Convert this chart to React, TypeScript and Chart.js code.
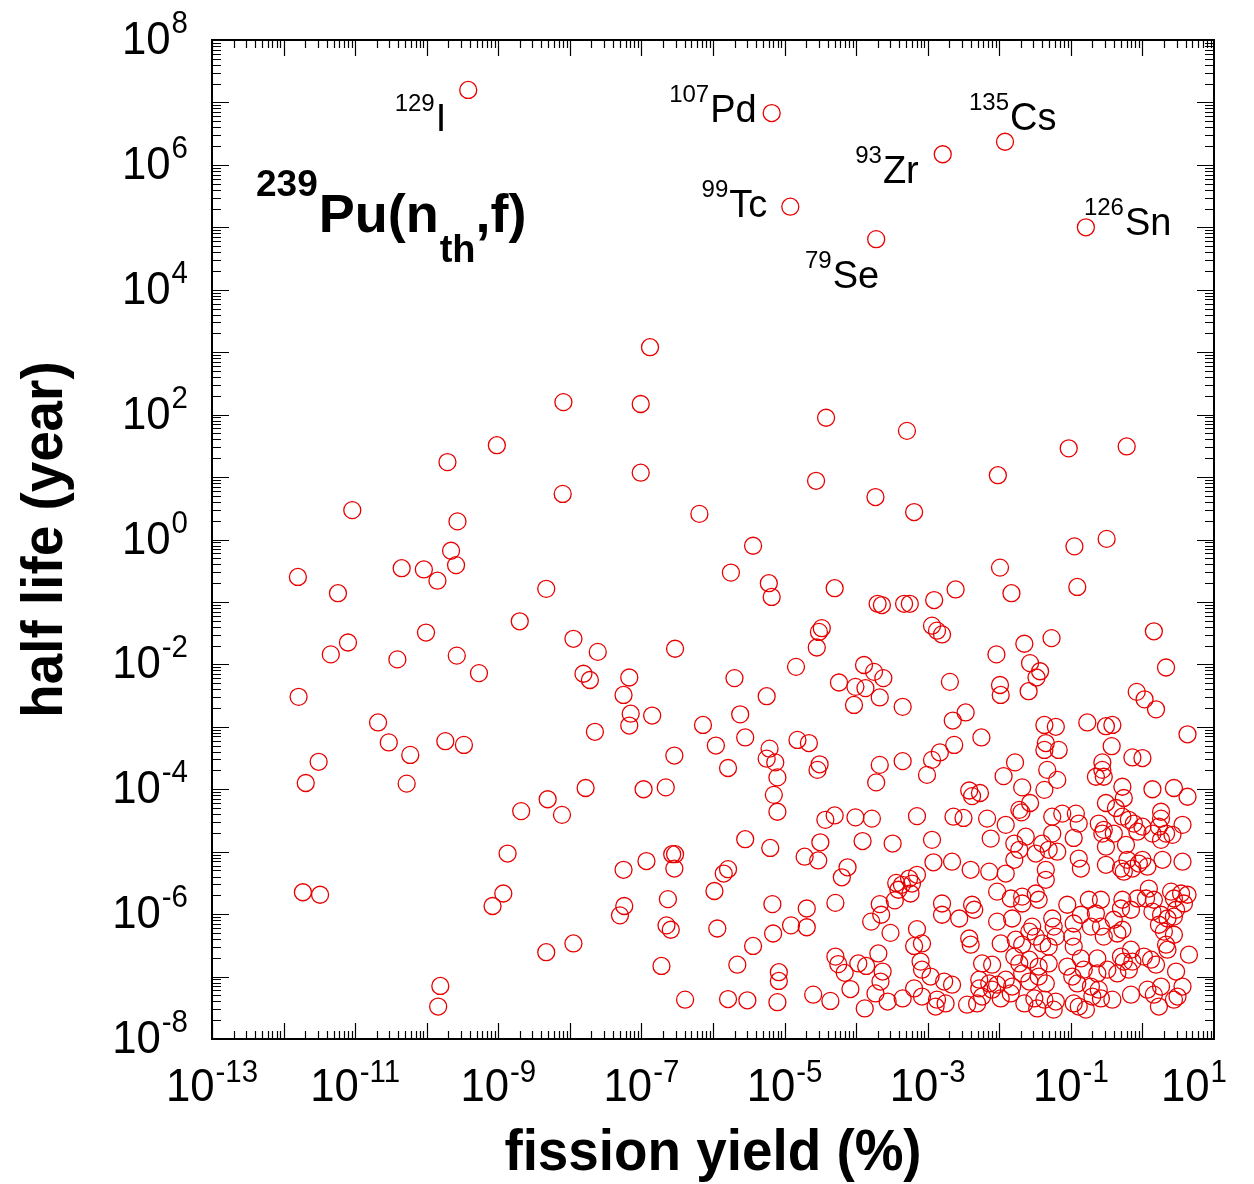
import React, { useEffect, useRef } from "react";
import { Chart, registerables } from "chart.js";

Chart.register(...registerables);

// ---------- DATA (log10 values) ----------
// labelled long-lived fission products
const labeledMass = ["129", "107", "135", "93", "99", "79", "126"];
const labeledSymbol = ["I", "Pd", "Cs", "Zr", "Tc", "Se", "Sn"];
const labeledYieldLog = [-9.42, -5.18, -1.92, -2.79, -4.92, -3.72, -0.79];
const labeledHalfLifeLog = [7.2, 6.83, 6.37, 6.17, 5.33, 4.81, 5.0];

// all other nuclides: log10(fission yield %) and log10(half life / year)
const yieldLog = [
  -9.02, -9.71, -11.04, -9.57, -9.66, -9.59, -10.35, -10.04, -9.85, -11.8, -11.24, -8.33, -8.7, -10.01, -11.1, -11.34, -10.41, -9.58, -9.27, -11.79,
  -10.68, -10.53, -9.74, -9.48, -10.23, -11.51, -11.69, -10.28, -8.31, -8.68, -8.87, -11.73, -11.49, -8.93, -9.08, -8.33, -9.81, -9.84,
  -6.88, -8.09, -7.01, -4.42, -7.01, -8.1, -4.56, -3.73, -6.19, -5.44, -5.75, -5.22, -5.18, -4.3, -3.7, -4.48, -4.52, -4.55, -7.95, -7.61, -6.53, -7.81, -7.72, -7.17, -5.7, -4.84, -4.24, -3.89, -3.75, -4.01, -3.87, -7.25, -5.25,
  -7.15, -7.17, -6.85, -7.65, -6.14, -5.62, -5.55, -5.96, -6.54, -5.79, -5.21, -5.25, -5.13, -5.1, -5.15, -5.1, -4.82, -4.66, -4.51, -4.54, -7.78, -6.97, -6.66, -8.11, -4.43, -4.3, -4.01, -5.55, -5.2, -4.5, -4.72, -4.53, -6.57, -6.53, -6.54, -6.93, -7.25, -5.79, -5.85, -5.98, -4.12, -4.2, -4.29, -4.69, -4.69, -4.91, -5.17, -5.16, -5.44, -5.94, -6.63, -6.65, -6.59, -7.24, -7.3, -7.95, -6.72, -5.66, -5.08, -5.08, -5.1, -6.39, -5.79, -5.52, -4.6, -4.36, -4.29, -4.25, -4.16, -3.97, -4.08, -4.03,
  -3.29, -1.03, -0.22, -2.02, -3.19, -0.95, -0.5, -1.99, -1.83, -0.91, -2.61, -2.91, -3.64, -3.33, -3.25, -2.94, -2.87, -2.8, 0.16, -1.65, -1.27, -2.04, -1.57, -1.43, -1.48, 0.33, -2.69, -1.99, -1.98, -1.59, -0.08, 0.03, -3.62,
  -3.67, -3.35, -2.65, -2.47, -2.25, -1.37, -1.35, -1.37, -2.63, -2.83, -2.94, -3.01, -3.35, -3.67, -3.72, -1.78, -1.94, -1.68, -2.42, -2.27, -2.38, -1.57, -1.72, -1.69, -3.78, -3.15, -2.64, -2.5, -2.17, -1.91,
  -3.91, -3.49, -2.94, -3.15, -3.26, -3.22, -3.44, -3.36, -3.41, -3.24, -3.46, -3.67, -3.65, -3.79, -3.52, -3.15, -3.08, -3.19, -3.69, -3.86, -3.63, -3.66, -3.1, -3.08, -2.96, -3.19, -3.08, -3.73, -3.56, -3.35, -3.88, -2.87, -2.89, -2.92,
  -2.12, -1.79, -1.72, -1.63, -1.49, -1.4, -1.31, -1.19, -2.66, -2.4, -2.14, -1.91, -1.79, -1.35, -1.35, -2.03, -1.84, -1.68, -1.49, -1.45, -1.68, -2.8, -2.8, -2.38, -2.35, -2.56, -2.03, -1.82, -1.54, -1.58, -1.26, -1.24, -1.05, -0.96, -2.42, -2.4, -1.98, -1.77, -1.68, -1.49, -1.4, -1.31, -1.21, -0.98, -0.96, -2.24, -2.1, -1.79, -1.72, -1.58, -1.45, -1.31, -1.05, -2.77, -2.66, -2.28, -2.28, -2.14, -2.03, -1.91, -1.82, -1.68, -1.58, -1.45, -1.35, -0.98, -2.75, -2.45, -2.31, -2.24, -2.1, -1.98, -1.84, -1.65, -1.51, -1.47, -1.37, -1.21, -1.24, -0.96,
  0.19, 0.63, -0.77, -0.51, -0.42, -1.21, -1.17, -0.43, -0.14, 0.0, -0.56, -0.56, -0.65, -0.54, -1.33, -1.19, -1.37, -0.28, -0.26, 0.14, 0.44, 0.63, -0.51, -0.37, 0.26, 0.26, 0.23, 0.33, -1.26, -1.12, -0.93, -0.89, -0.61, -0.54, -0.28, -0.19, -0.12, 0.0, 0.56, 0.42, -1.26,
  -0.56, -0.4, -0.07, 0.14, 0.26, -0.96, -0.51, -0.23, -0.89, -0.86, -0.51, -0.3, -0.21, -0.26, -0.14, -0.05, 0.0, 0.07, 0.28, 0.56, 0.09, -0.75, -0.58, -0.28, -0.07, 0.05, 0.16, 0.4, 0.44, 0.54, 0.63, 0.58, -0.86, -0.65, -0.3, -0.16, 0.14, 0.26, 0.35, 0.44, 0.47, -0.72, -0.58, -0.4, -0.28, -0.35, 0.23, 0.3, 0.44, -0.54, 0.33, 0.35, -0.16, 0.65, -0.86, -0.63, -0.3, -0.26, -0.19, -0.14, 0.02, 0.12, 0.19, -0.82, -0.63, -0.49, -0.35, 0.47, -0.91, -0.72, -0.61, -0.7, -0.58, -0.16, 0.07, 0.16, 0.26, 0.56, 0.44, 0.49, -0.89, -0.79, -0.42, 0.23,
];
const halfLifeLog = [
  1.51, 1.24, 0.47, 0.29, -0.18, -0.41, -0.46, -0.48, -0.66, -0.6, -0.86, -0.79, -1.31, -1.49, -1.65, -1.84, -1.92, -1.86, -2.14, -2.52,
  -2.93, -3.25, -3.23, -3.29, -3.45, -3.56, -3.9, -3.91, -4.16, -4.35, -5.03, -5.65, -5.69, -5.67, -5.87, -6.61, -7.15, -7.48,
  3.08, 2.2, 2.17, 1.95, 1.07, 0.73, 0.94, 0.68, 0.41, -0.1, -0.53, -0.7, -0.92, -0.78, -1.03, -1.42, -1.48, -1.73, -1.59, -1.8, -1.75, -2.15, -2.25, -2.21, -2.22, -2.04, -2.29, -2.01, -2.12, -2.36, -2.38, -2.49, -2.51,
  -2.79, -2.98, -2.82, -3.08, -2.97, -2.8, -3.17, -3.3, -3.46, -3.66, -3.35, -3.51, -3.57, -3.81, -4.09, -4.36, -3.21, -3.26, -3.6, -3.69, -3.98, -4.0, -3.97, -4.41, -4.49, -4.42, -4.45, -4.8, -4.94, -4.85, -5.08, -5.14, -5.04, -5.04, -5.27, -5.15, -5.29, -5.28, -5.35, -5.63, -5.25, -5.41, -5.82, -5.91, -6.21, -6.18, -5.84, -6.31, -6.51, -6.23, -5.76, -6.18, -6.25, -5.87, -6.02, -6.47, -6.83, -6.81, -6.93, -7.07, -7.41, -7.37, -7.36, -7.38, -7.29, -7.39, -6.68, -6.8, -6.94, -6.79, -7.2, -2.65,
  1.74, 1.46, 1.49, 1.03, 0.44, -0.11, 0.01, -0.45, -0.86, -0.76, -0.8, -0.97, -1.05, -1.03, -1.03, -1.38, -1.46, -1.52, -1.47, -1.67, -1.58, -1.84, -1.98, -2.11, -2.21, -2.05, -2.28, -2.33, -2.49, -2.43, -2.44, -2.56, -2.22,
  -2.53, -2.68, -2.9, -2.77, -3.17, -2.97, -3.26, -3.37, -3.29, -3.41, -3.53, -3.77, -3.55, -3.61, -3.89, -3.57, -3.79, -3.97, -4.02, -4.06, -4.11, -4.22, -4.33, -4.37, -4.47, -4.43, -4.44, -4.46, -4.47, -4.57,
  -4.83, -4.87, -4.81, -5.37, -5.43, -5.51, -5.5, -5.53, -5.61, -5.67, -5.78, -5.84, -6.01, -6.12, -6.3, -6.24, -6.47, -6.51, -6.63, -6.83, -6.92, -7.08, -6.76, -6.89, -7.0, -7.19, -7.32, -7.27, -7.4, -7.35, -7.51, -7.37, -7.48, -5.17,
  -4.79, -4.87, -4.97, -4.76, -5.03, -4.87, -4.97, -5.0, -5.16, -5.29, -5.32, -5.35, -5.13, -5.29, -5.45, -5.64, -5.75, -5.83, -5.67, -5.77, -5.72, -5.83, -6.01, -5.85, -5.93, -6.07, -6.12, -6.07, -6.2, -6.28, -6.07, -6.2, -5.85, -6.15, -6.39, -6.49, -6.47, -6.41, -6.49, -6.36, -6.47, -6.52, -6.36, -6.36, -6.52, -6.79, -6.81, -6.68, -6.79, -6.73, -6.84, -6.79, -6.84, -7.08, -7.13, -7.05, -7.19, -7.11, -7.13, -7.05, -7.16, -6.95, -7.08, -7.0, -7.11, -7.0, -7.43, -7.45, -7.43, -7.32, -7.21, -7.35, -7.27, -7.43, -7.35, -7.51, -7.37, -7.4, -7.53, -7.43,
  -2.72, -3.12, -2.93, -2.99, -2.97, -3.0, -3.37, -3.31, -3.49, -3.5, -3.57, -3.69, -3.8, -3.8, -3.69, -3.85, -4.01, -3.96, -4.14, -4.0, -3.98, -4.12, -4.22, -4.3, -4.36, -4.47, -4.6, -4.71, -4.44, -4.39, -4.39, -4.55, -4.55, -4.65, -4.44, -4.49, -4.55, -4.6, -4.57, -4.73, -4.71,
  -4.71, -4.71, -4.68, -4.71, -4.81, -4.78, -4.92, -4.89, -5.11, -5.27, -5.21, -5.27, -5.13, -5.32, -5.27, -5.19, -5.13, -5.24, -5.13, -5.16, -5.59, -5.77, -5.77, -5.77, -5.75, -5.75, -5.77, -5.64, -5.75, -5.67, -5.69, -5.83, -6.01, -5.99, -5.91, -5.93, -5.96, -6.01, -6.07, -6.04, -5.93, -6.2, -6.2, -6.09, -6.25, -6.31, -6.17, -6.28, -6.33, -6.36, -6.49, -6.57, -6.57, -6.65, -6.71, -6.71, -6.68, -6.76, -6.89, -6.76, -6.68, -6.73, -6.81, -6.89, -6.95, -6.89, -6.95, -6.92, -7.11, -7.16, -7.21, -7.32, -7.35, -7.29, -7.21, -7.29, -7.16, -7.16, -7.37, -7.32, -7.48, -7.53, -7.37, -7.48,
];

// axis ranges and labelled tick exponents
const xRange = [1e-13, 1e1];
const yRange = [1e-8, 1e8];
const xLabelExponents = ["-13", "-11", "-9", "-7", "-5", "-3", "-1", "1"];
const yLabelExponents = ["-8", "-6", "-4", "-2", "0", "2", "4", "6", "8"];

const xTitle = "fission yield (%)";
const yTitle = "half life (year)";

// ---------- STYLE / LAYOUT ----------
const FONT = '"Liberation Sans", Arial, Helvetica, sans-serif';
const RED = "rgb(232,0,0)";
const labelPlacement = [
  { align: "right", dx: -22, dy: 41 },
  { align: "right", dx: -15, dy: 9 },
  { align: "left", dx: -36, dy: -12 },
  { align: "right", dx: -24, dy: 29 },
  { align: "right", dx: -23, dy: 10 },
  { align: "right", dx: 3, dy: 49 },
  { align: "left", dx: -2, dy: 8 },
];

function drawText(ctx: CanvasRenderingContext2D, s: string, x: number, y: number, font: string, sx = 1) {
  ctx.save();
  ctx.font = font;
  ctx.textAlign = "left";
  ctx.textBaseline = "alphabetic";
  ctx.translate(x, y);
  ctx.scale(sx, 1);
  ctx.fillText(s, 0, 0);
  ctx.restore();
}
function textWidth(ctx: CanvasRenderingContext2D, s: string, font: string, sx = 1) {
  ctx.save();
  ctx.font = font;
  const w = ctx.measureText(s).width * sx;
  ctx.restore();
  return w;
}

// draws base + superscript; x is left/right/center anchor per align
function drawSup(
  ctx: CanvasRenderingContext2D,
  base: string,
  sup: string,
  x: number,
  y: number,
  baseFont: string,
  supFont: string,
  supRise: number,
  align: "left" | "right" | "center",
  sx = 1,
  supFirst = false,
  gap = 1
) {
  const wb = textWidth(ctx, base, baseFont, sx);
  const ws = textWidth(ctx, sup, supFont, sx);
  const total = wb + ws + gap;
  let x0 = x;
  if (align === "right") x0 = x - total;
  if (align === "center") x0 = x - total / 2;
  if (supFirst) {
    drawText(ctx, sup, x0, y - supRise, supFont, sx);
    drawText(ctx, base, x0 + ws + gap, y, baseFont, sx);
  } else {
    drawText(ctx, base, x0, y, baseFont, sx);
    drawText(ctx, sup, x0 + wb + gap, y - supRise, supFont, sx);
  }
}

const decorPlugin = {
  id: "decor",
  afterDraw(chart: any) {
    const { ctx, chartArea: a, scales } = chart;
    const xs = scales.x;
    const ys = scales.y;
    ctx.save();
    ctx.strokeStyle = "#000";
    ctx.fillStyle = "#000";

    // minor / major ticks on all four sides (pointing inward)
    ctx.lineWidth = 1.2;
    ctx.beginPath();
    for (let d = -13; d <= 0; d++) {
      for (let k = 1; k <= 9; k++) {
        const px = Math.round(xs.getPixelForValue(k * Math.pow(10, d))) + 0.5;
        const len = k === 1 ? 16 : 8;
        ctx.moveTo(px, a.bottom);
        ctx.lineTo(px, a.bottom - len);
        ctx.moveTo(px, a.top);
        ctx.lineTo(px, a.top + len);
      }
    }
    for (let d = -8; d <= 7; d++) {
      for (let k = 1; k <= 9; k++) {
        const py = Math.round(ys.getPixelForValue(k * Math.pow(10, d))) + 0.5;
        const len = k === 1 ? 17 : 9;
        ctx.moveTo(a.left, py);
        ctx.lineTo(a.left + len, py);
        ctx.moveTo(a.right, py);
        ctx.lineTo(a.right - len, py);
      }
    }
    ctx.stroke();

    // frame
    ctx.lineWidth = 2;
    ctx.strokeRect(a.left, a.top, a.right - a.left, a.bottom - a.top);

    // tick labels
    const baseF = `46px ${FONT}`;
    const supF = `31px ${FONT}`;
    xLabelExponents.forEach((e, i) => {
      const px = xs.getPixelForValue(Math.pow(10, Number(e)));
      const shift = i === xLabelExponents.length - 1 ? -20 : 0;
      drawSup(ctx, "10", e, px + shift, a.bottom + 62, baseF, supF, 19, "center", 0.95);
    });
    yLabelExponents.forEach((e) => {
      const py = ys.getPixelForValue(Math.pow(10, Number(e)));
      drawSup(ctx, "10", e, a.left - 24, py + 14, baseF, supF, 21, "right", 0.95);
    });

    // axis titles
    const titleF = `bold 58px ${FONT}`;
    const tsx = 0.945;
    const tw = textWidth(ctx, xTitle, titleF, tsx);
    drawText(ctx, xTitle, (a.left + a.right) / 2 - tw / 2, a.bottom + 131, titleF, tsx);
    const yw = textWidth(ctx, yTitle, titleF, tsx);
    ctx.save();
    ctx.translate(62, (a.top + a.bottom) / 2);
    ctx.rotate(-Math.PI / 2);
    drawText(ctx, yTitle, -yw / 2, 0, titleF, tsx);
    ctx.restore();

    // nuclide labels
    const elF = `38px ${FONT}`;
    const massF = `24px ${FONT}`;
    labeledSymbol.forEach((sym, i) => {
      const px = xs.getPixelForValue(Math.pow(10, labeledYieldLog[i]));
      const py = ys.getPixelForValue(Math.pow(10, labeledHalfLifeLog[i]));
      const p = labelPlacement[i];
      drawSup(ctx, sym, labeledMass[i], px + p.dx, py + p.dy, elF, massF, 20, p.align as any, 1, true, 1);
    });

    // reaction label 239Pu(nth,f)
    const bx = a.left + 44;
    const by = a.top + 192;
    const bigF = `bold 54px ${FONT}`;
    drawText(ctx, "239", bx, by - 36, `bold 37px ${FONT}`);
    const w239 = textWidth(ctx, "239", `bold 37px ${FONT}`);
    const x1 = bx + w239 + 1;
    drawText(ctx, "Pu(n", x1, by, bigF);
    const wpun = textWidth(ctx, "Pu(n", bigF);
    drawText(ctx, "th", x1 + wpun + 1, by + 30, `bold 38px ${FONT}`);
    const wth = textWidth(ctx, "th", `bold 38px ${FONT}`);
    drawText(ctx, ",f)", x1 + wpun + wth + 1, by, bigF);

    ctx.restore();
  },
};

export default function App() {
  const ref = useRef<HTMLCanvasElement>(null);
  useEffect(() => {
    const canvas = ref.current;
    if (!canvas) return;
    const points = yieldLog.map((lx, i) => ({ x: Math.pow(10, lx), y: Math.pow(10, halfLifeLog[i]) }));
    const labeled = labeledYieldLog.map((lx, i) => ({ x: Math.pow(10, lx), y: Math.pow(10, labeledHalfLifeLog[i]) }));
    const ds = (data: any[]) => ({
      data,
      showLine: false,
      pointStyle: "circle",
      pointRadius: 8.5,
      pointHoverRadius: 8.5,
      pointBorderWidth: 1.3,
      pointBorderColor: RED,
      pointBackgroundColor: "rgba(0,0,0,0)",
    });
    const chart = new Chart(canvas, {
      type: "scatter",
      data: { datasets: [ds(points), ds(labeled)] as any },
      options: {
        responsive: false,
        maintainAspectRatio: false,
        devicePixelRatio: 1,
        animation: false,
        events: [],
        layout: { padding: { left: 212, top: 40, right: 40, bottom: 145 } },
        plugins: { legend: { display: false }, tooltip: { enabled: false }, title: { display: false } },
        scales: {
          x: { type: "logarithmic", min: xRange[0], max: xRange[1], display: false },
          y: { type: "logarithmic", min: yRange[0], max: yRange[1], display: false },
        },
      },
      plugins: [decorPlugin],
    });
    return () => chart.destroy();
  }, []);
  return (
    <div style={{ position: "absolute", left: 0, top: 0, width: 1254, height: 1184, background: "#fff" }}>
      <canvas ref={ref} width={1254} height={1184} style={{ display: "block", width: 1254, height: 1184 }} />
    </div>
  );
}
